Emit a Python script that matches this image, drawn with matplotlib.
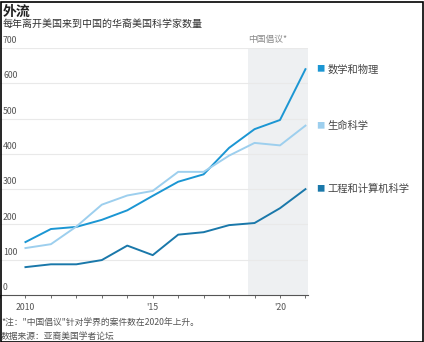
import matplotlib
matplotlib.use("Agg")
import matplotlib.pyplot as plt
from matplotlib.patches import Rectangle
from matplotlib.ticker import MultipleLocator

plt.rcParams['font.family'] = ['Noto Sans CJK SC', 'DejaVu Sans']

# ── Datos ──────────────────────────────────────────────────────────────────────
years = list(range(2010, 2022))
math_phys = [150, 187, 193, 213, 240, 281, 321, 342, 417, 470, 496, 640]
life_sci = [133, 144, 194, 256, 282, 295, 349, 349, 395, 431, 424, 480]
eng_cs = [79, 87, 87, 99, 140, 113, 171, 178, 198, 204, 246, 300]

series_names = ["数学和物理", "生命科学", "工程和计算机科学"]
series_colors = ["#1b96d3", "#9dcfee", "#1a78aa"]

y_ticks = [0, 100, 200, 300, 400, 500, 600, 700]
x_major = [2010, 2015, 2020]
x_labels = ["2010", "'15", "'20"]
shade_start, shade_end = 2018.75, 2021.1

W, H = 424, 342
fig = plt.figure(figsize=(W / 100, H / 100), dpi=100)
ax = fig.add_axes([0.0, (H - 295) / H, 308 / W, (295 - 48) / H])

ax.axvspan(shade_start, shade_end, color="#eef0f2", zorder=0, lw=0)
for v in y_ticks[1:]:
    ax.axhline(v, color="#e9e9e9", lw=0.8, zorder=1)

for vals, col in zip([math_phys, life_sci, eng_cs], series_colors):
    ax.plot(years, vals, color=col, lw=1.4, zorder=3)

ax.set_xlim(2009.0, shade_end)
ax.set_ylim(0, 700)

# etiquetas del eje y dentro del área, encima de cada línea
ax.set_yticks([])
for v in y_ticks:
    ax.text(0.01, v + 8, str(v), transform=ax.get_yaxis_transform(),
            fontsize=6.3, color="#555555", ha="left", va="bottom")

for side in ["top", "right", "left"]:
    ax.spines[side].set_visible(False)
ax.spines["bottom"].set_color("#555555")
ax.spines["bottom"].set_linewidth(0.8)
ax.set_xticks(x_major)
ax.set_xticklabels(x_labels, fontsize=6.3, color="#555555")
ax.xaxis.set_minor_locator(MultipleLocator(1))
ax.tick_params(axis="x", which="both", direction="out", length=2.5,
               width=0.6, color="#555555", pad=3)
ax.patch.set_alpha(0)

ax.text(shade_start, 712, "中国倡议*", fontsize=6.3, color="#888888",
        ha="left", va="bottom")

# leyenda a la derecha, alineada con el último valor de cada serie
for name, col, vals in zip(series_names, series_colors, [math_phys, life_sci, eng_cs]):
    ax.annotate("■", xy=(years[-1], vals[-1]), xytext=(8, 0),
                textcoords="offset points", fontsize=6, color=col,
                va="center", ha="left", annotation_clip=False)
    ax.annotate(name, xy=(years[-1], vals[-1]), xytext=(16, 0),
                textcoords="offset points", fontsize=7.4, color="#444444",
                va="center", ha="left", annotation_clip=False)

fig.text(3 / W, 1 - 12 / H, "外流", fontsize=10, fontweight="bold",
         color="#222222", ha="left", va="center")
fig.text(3 / W, 1 - 24 / H, "每年离开美国来到中国的华裔美国科学家数量",
         fontsize=7.2, color="#333333", ha="left", va="center")
fig.text(1 / W, 1 - 323 / H, '*注："中国倡议"针对学界的案件数在2020年上升。',
         fontsize=6.3, color="#555555", ha="left", va="center")
fig.text(1 / W, 1 - 336 / H, "数据来源：亚裔美国学者论坛",
         fontsize=6.3, color="#555555", ha="left", va="center")

fig.add_artist(Rectangle((0.5 / W, 0.5 / H), 1 - 2 / W, 1 - 2 / H,
                         transform=fig.transFigure, fill=False,
                         edgecolor="black", lw=1.2))

fig.savefig("out.png", dpi=100)
